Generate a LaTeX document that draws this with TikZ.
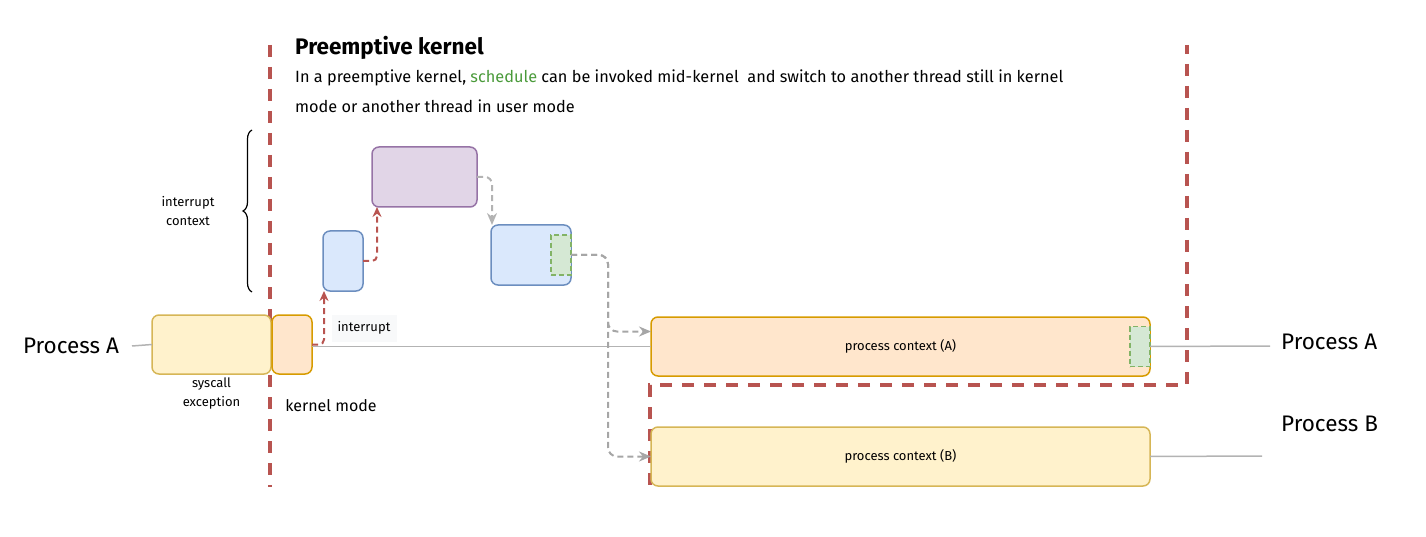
\documentclass[tikz,border=0pt]{standalone}
\usepackage{fontspec}
\setmainfont{Fira Sans}
\usetikzlibrary{positioning,calc,arrows.meta,decorations.pathreplacing}

\definecolor{yelfill}{HTML}{FFF2CC}
\definecolor{yeldraw}{HTML}{D6B656}
\definecolor{orafill}{HTML}{FFE6CC}
\definecolor{oradraw}{HTML}{D79B00}
\definecolor{blufill}{HTML}{DAE8FC}
\definecolor{bludraw}{HTML}{6C8EBF}
\definecolor{purfill}{HTML}{E1D5E7}
\definecolor{purdraw}{HTML}{9673A6}
\definecolor{grnfill}{HTML}{D5E8D4}
\definecolor{grndraw}{HTML}{82B366}
\definecolor{redline}{HTML}{B85450}
\definecolor{procline}{HTML}{B3B3B3}
\definecolor{jumpline}{HTML}{A6A6A6}
\definecolor{schedgreen}{HTML}{4A9A3A}
\definecolor{labelbg}{HTML}{F8F9FA}

\tikzset{
  box/.style={rounded corners=7pt, line width=1.5pt, inner sep=0pt, outer sep=0pt},
  usrbox/.style={box, fill=yelfill, draw=yeldraw},
  kernbox/.style={box, fill=orafill, draw=oradraw},
  intbox/.style={box, fill=blufill, draw=bludraw},
  schedbox/.style={box, fill=purfill, draw=purdraw},
  savebox/.style={line width=1.5pt, fill=grnfill, draw=grndraw, dash pattern=on 5pt off 3pt, inner sep=0pt, outer sep=0pt, minimum width=20pt, minimum height=40pt},
  boundary/.style={draw=redline, line width=4pt, dash pattern=on 12pt off 10pt},
  redjump/.style={draw=redline, line width=2pt, dash pattern=on 6pt off 4pt, -{Stealth[length=10pt,width=9pt]}},
  grayjump/.style={draw=jumpline, line width=2pt, dash pattern=on 6pt off 4pt, -{Stealth[length=12pt,width=10pt]}},
  proc/.style={draw=procline, line width=1.5pt},
  proclabel/.style={font=\fontsize{22.5}{24}\selectfont, inner sep=2pt},
  small/.style={font=\fontsize{13}{19}\selectfont, align=center, inner sep=1pt},
}

\begin{document}
\begin{tikzpicture}[x=1pt, y=-1pt]
  \useasboundingbox (0,0) rectangle (1426,537);

  % titles
  \node[anchor=west, inner sep=0pt, font=\fontsize{22.5}{24}\selectfont\bfseries] (title) at (295,48) {Preemptive kernel};
  \node[anchor=north west, inner sep=0pt, align=left, font=\fontsize{16.3}{30}\selectfont] (desc) at (295,70)
    {In a preemptive kernel, \textcolor{schedgreen}{schedule} can be invoked mid-kernel\ \ and switch to another thread still in kernel\\
     mode or another thread in user mode};

  % boundaries
  \coordinate (bl top) at (270,45);
  \coordinate (bl bot) at (270,487);
  \coordinate (br top) at (1187,45);
  \coordinate (br cnr) at (1187,385);
  \coordinate (br lft) at (650,385);
  \coordinate (br bot) at (650,492);
  \draw[boundary] (bl top) -- (bl bot);
  \draw[boundary, dash phase=3pt] (br top) -- (br cnr) -- (br lft) -- (br bot);

  % process A, left part
  \node[usrbox, minimum width=119pt, minimum height=59pt] (user) at (211.5,344.5) {};
  \node[kernbox, minimum width=40pt, minimum height=59pt] (kmode) at (292,344.5) {};
  \node[proclabel] (procAl) at (71,346) {Process A};
  \node[small, below=3pt of user] (sysc) {syscall\\exception};
  \node[small, font=\fontsize{16}{19}\selectfont] (kmlab) at (331,406) {kernel mode};

  % interrupt path
  \node[intbox, minimum width=40pt, minimum height=60pt] (intA) at (343,261) {};
  \node[schedbox, minimum width=105pt, minimum height=60pt] (sched) at (424.5,177) {};
  \node[intbox, minimum width=80pt, minimum height=60pt] (ret) at (531,255) {};
  \node[savebox, anchor=east] (swA) at (ret.east) {};
  \node[small, fill=labelbg, minimum width=65pt, minimum height=27pt] (intlab) at (364,328) {interrupt};

  % process contexts
  \node[kernbox, minimum width=499pt, minimum height=59pt, font=\fontsize{13}{14}\selectfont] (ctxA) at (900.5,346.5) {process context (A)};
  \node[savebox, anchor=east] (swB) at (ctxA.east) {};
  \node[usrbox, minimum width=499pt, minimum height=59pt, font=\fontsize{13}{14}\selectfont] (ctxB) at (900.5,456.5) {process context (B)};
  \node[proclabel, anchor=west] (procAr) at (1279,342) {Process A};
  \node[proclabel, anchor=west] (procB) at (1279,424) {Process B};
  \coordinate (startA) at (132,346);
  \coordinate (endA) at (1270,346);
  \coordinate (endB) at (1262,456);
  \coordinate (fork) at (608,255);

  % timelines
  \draw[proc] (startA) -- (user.west);
  \draw[proc] (kmode.east |- ctxA.west) -- (ctxA.west);
  \draw[proc] (swB.east) -- (endA);
  \draw[proc] (ctxB.east) -- (endB);

  % jumps
  \draw[redjump, rounded corners=5pt] (kmode.east) -| ([xshift=1pt]intA.south west);
  \draw[redjump, rounded corners=5pt] (intA.east) -| ([xshift=5pt]sched.south west);
  \draw[grayjump, draw=procline, rounded corners=7pt] (sched.east) -| ([xshift=1pt]ret.north west);
  \draw[grayjump, rounded corners=9pt] (swA.east) -- (fork) |- ([yshift=15pt]ctxA.west);
  \draw[grayjump, rounded corners=9pt] (swA.east) -- (fork) |- (ctxB.west);

  % interrupt context brace
  \draw[decorate, decoration={brace, amplitude=9pt}, line width=1.2pt] (252,292) -- (252,130);
  \node[small] (intctx) at (188,211) {interrupt\\context};
\end{tikzpicture}
\end{document}
